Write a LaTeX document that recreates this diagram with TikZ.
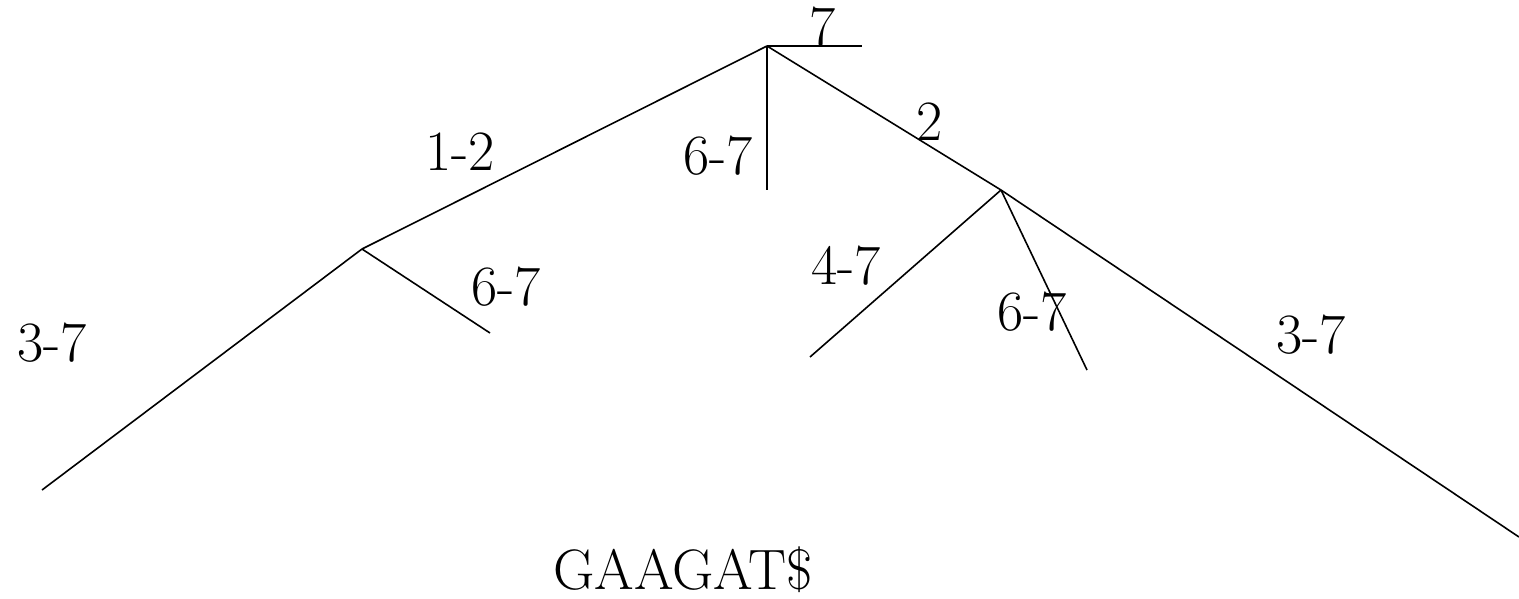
\documentclass[tikz,border=0pt]{standalone}
\begin{document}
\begin{tikzpicture}[x=1pt,y=-1pt,
  edge/.style={line width=1.6pt},
  lab/.style={font=\fontsize{57}{59}\selectfont, inner sep=0pt, anchor=center}]
\useasboundingbox (0,0) rectangle (1519,598);
\coordinate (R) at (767,46);
\coordinate (L) at (362,249);
\coordinate (N) at (1001,190);
\coordinate (t7) at (862,46);
\coordinate (tv) at (767,190);
\coordinate (LL) at (42,490);
\coordinate (LR) at (490,333);
\coordinate (NL) at (810,357);
\coordinate (NM) at (1087,370);
\coordinate (NR) at (1519,537);
\draw[edge] (R) -- (t7);
\draw[edge] (R) -- (tv);
\draw[edge] (R) -- (L);
\draw[edge] (R) -- (N);
\draw[edge] (L) -- (LL);
\draw[edge] (L) -- (LR);
\draw[edge] (N) -- (NL);
\draw[edge] (N) -- (NM);
\draw[edge] (N) -- (NR);
\node[lab] (a) at (823,27) {7};
\node[lab] (b) at (718,156) {6-7};
\node[lab] (c) at (460,152) {1-2};
\node[lab] (d) at (930,122) {2};
\node[lab] (e) at (52,343) {3-7};
\node[lab] (f) at (506,287) {6-7};
\node[lab] (g) at (846,266) {4-7};
\node[lab] (h) at (1032,312) {6-7};
\node[lab] (i) at (1311,335) {3-7};
\node[lab] (j) at (683,570) {GAAGAT\$};
\end{tikzpicture}
\end{document}
